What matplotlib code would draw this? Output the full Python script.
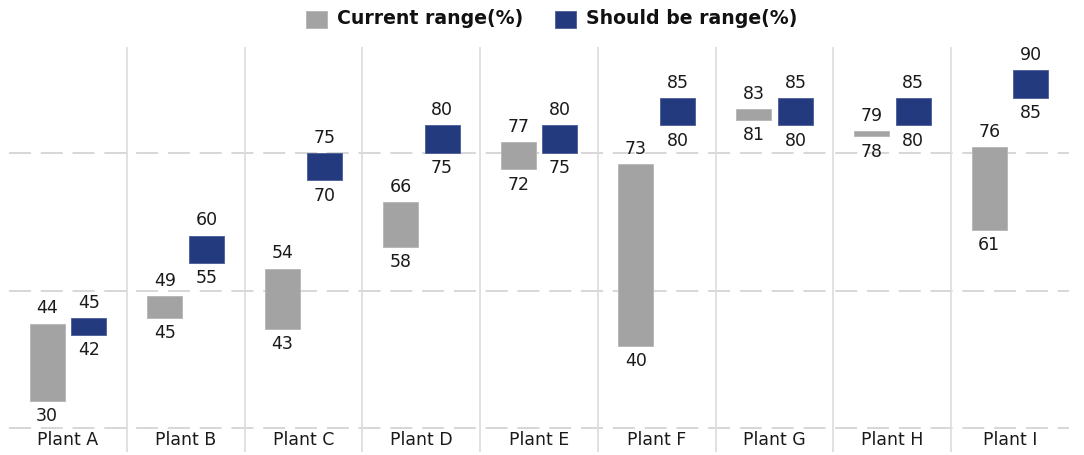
import matplotlib
matplotlib.use("Agg")
import matplotlib.pyplot as plt
from matplotlib.patches import Rectangle
import numpy as np

plants = ["Plant A", "Plant B", "Plant C", "Plant D", "Plant E",
          "Plant F", "Plant G", "Plant H", "Plant I"]
current_low = [30, 45, 43, 58, 72, 40, 81, 78, 61]
current_high = [44, 49, 54, 66, 77, 73, 83, 79, 76]
target_low = [42, 55, 70, 75, 75, 80, 80, 80, 85]
target_high = [45, 60, 75, 80, 80, 85, 85, 85, 90]
grid_values = [25, 50, 75]
legend_labels = ["Current range(%)", "Should be range(%)"]

GRAY = "#a3a3a3"
BLUE = "#243a7e"
FONT = "DejaVu Sans"

W, H, DPI = 1084, 455, 100
fig = plt.figure(figsize=(W / DPI, H / DPI), dpi=DPI)

# axes placed in pixel terms
ax_left, ax_right, ax_top, ax_bottom = 9, 1069, 47, 452
ax = fig.add_axes([ax_left / W, 1 - ax_bottom / H,
                   (ax_right - ax_left) / W, (ax_bottom - ax_top) / H])
ax.set_xlim(-0.5, len(plants) - 0.5)
ax.set_ylim(20.64, 94.27)
ax.axis("off")

x = np.arange(len(plants))
width = 0.297
offset = 0.177

# dashed horizontal reference lines
for g in grid_values:
    ax.axhline(g, color="#cdcdcd", lw=1.1, dashes=(14.4, 6.4), zorder=0)

# vertical separators between plants
for b in x[:-1] + 0.5:
    ax.axvline(b, color="#dcdcdc", lw=1.2, zorder=0)

cur_low = np.array(current_low)
cur_high = np.array(current_high)
tgt_low = np.array(target_low)
tgt_high = np.array(target_high)

ax.bar(x - offset, cur_high - cur_low, bottom=cur_low, width=width,
       color=GRAY, edgecolor="#b5b5b5", linewidth=0.6, zorder=2)
ax.bar(x + offset, tgt_high - tgt_low, bottom=tgt_low, width=width,
       color=BLUE, edgecolor="#4a5c98", linewidth=0.6, zorder=2)

label_kw = dict(ha="center", va="center", fontsize=12.5, family=FONT,
                color="#1a1a1a", textcoords="offset points", annotation_clip=False)
gap = 10.9
for xi, lo, hi in zip(x - offset, cur_low, cur_high):
    ax.annotate(f"{hi}", (xi, hi), xytext=(0, gap), **label_kw)
    ax.annotate(f"{lo}", (xi, lo), xytext=(0, -gap), **label_kw)
for xi, lo, hi in zip(x + offset, tgt_low, tgt_high):
    ax.annotate(f"{hi}", (xi, hi), xytext=(0, gap), **label_kw)
    ax.annotate(f"{lo}", (xi, lo), xytext=(0, -gap), **label_kw)

# category names along the bottom
for xi, name in zip(x, plants):
    ax.text(xi, 22.75, name, ha="center", va="center", fontsize=12.5,
            family=FONT, color="#1a1a1a")

# legend drawn in figure pixel coordinates
def px(xp, yp):
    return xp / W, 1 - yp / H

sq = 21
legend_items = [(306, GRAY, "#b5b5b5", legend_labels[0]),
                (555, BLUE, "#4a5c98", legend_labels[1])]
for x0, fc, ec, text in legend_items:
    fx, fy = px(x0, 28)
    fig.patches.append(Rectangle((fx, fy), sq / W, 17 / H, transform=fig.transFigure,
                                 facecolor=fc, edgecolor=ec, linewidth=0.6))
    tx, ty = px(x0 + sq + 10, 19)
    fig.text(tx, ty, text, ha="left", va="center", fontsize=13.6,
             fontweight="bold", family=FONT, color="#111111")

fig.savefig("out.png", dpi=DPI)
